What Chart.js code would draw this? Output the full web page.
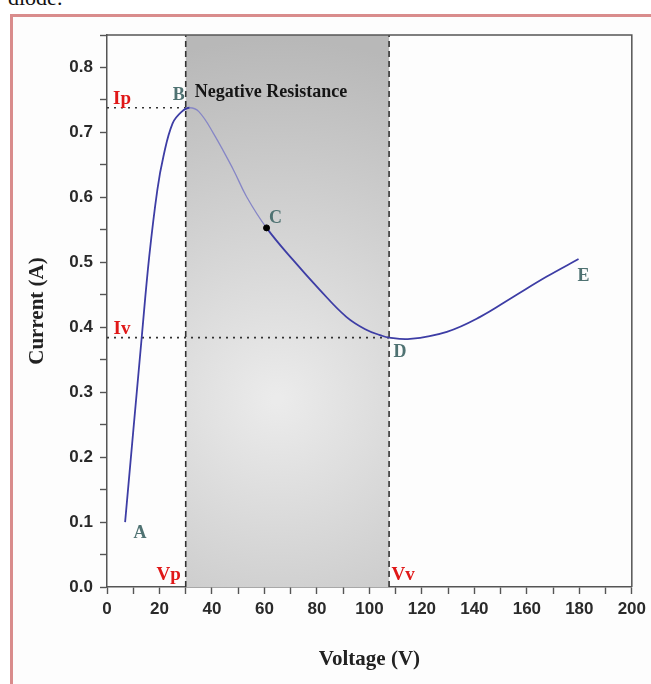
<!DOCTYPE html>
<html>
<head>
<meta charset="utf-8">
<script src="https://cdn.jsdelivr.net/npm/chart.js@4.4.1/dist/chart.umd.min.js"></script>
<style>
html, body { margin:0; padding:0; background:#fff; width:651px; height:684px; overflow:hidden; }
#cap { position:absolute; left:8px; top:-15px; font:22px "Liberation Serif", serif; color:#111; }
#frame { position:absolute; left:10px; top:14px; width:700px; height:700px;
  border-left:3px solid #d98c8c; border-top:3px solid #d98c8c; background:#fdfdfd; }
#wrap { position:absolute; left:0; top:0; width:651px; height:684px; }
</style>
</head>
<body>
<div id="cap">diode.</div>
<div id="frame"></div>
<div id="wrap"><canvas id="iv" width="651" height="684"></canvas></div>
<script>
// I-V curve
const voltage = [6.9, 13.2, 16.1, 19.2, 21.5, 25.0, 28.5, 31.5, 35.0, 40.5, 48.1, 53.2, 60.8, 70.8, 81.0, 91.2, 98.8, 104.0, 107.5, 115.5, 129.5, 142.2, 154.9, 167.6, 179.7];
const current = [0.100, 0.383, 0.509, 0.612, 0.663, 0.714, 0.732, 0.738, 0.732, 0.699, 0.643, 0.601, 0.553, 0.504, 0.458, 0.416, 0.396, 0.388, 0.384, 0.382, 0.393, 0.416, 0.447, 0.478, 0.505];

// named points on the curve
const pointNames = ["A", "B", "C", "D", "E"];
const pointV = [6.9, 31.5, 60.8, 107.5, 179.7];
const pointI = [0.100, 0.738, 0.553, 0.384, 0.505];

// peak / valley
const Vp = 30, Vv = 107.5;
const Ip = 0.738, Iv = 0.384;

const xTickLabels = [0, 20, 40, 60, 80, 100, 120, 140, 160, 180, 200];
const yTickLabels = ["0.0", "0.1", "0.2", "0.3", "0.4", "0.5", "0.6", "0.7", "0.8"];
const yMax = 0.85;

const curve = voltage.map((v, i) => ({x: v, y: current[i]}));

const shadePlugin = {
  id: "shade",
  beforeDatasetsDraw(chart) {
    const ctx = chart.ctx, a = chart.chartArea;
    const x = chart.scales.x;
    const x1 = x.getPixelForValue(Vp), x2 = x.getPixelForValue(Vv);
    const cx = (x1 + x2) / 2 - 10, cy = a.top + (a.bottom - a.top) * 0.66;
    const g = ctx.createRadialGradient(cx, cy, 5, cx, cy, 360);
    g.addColorStop(0, "#ebebeb");
    g.addColorStop(0.55, "#cfcfcf");
    g.addColorStop(1, "#b8b8b8");
    ctx.save();
    ctx.fillStyle = g;
    ctx.fillRect(x1, a.top, x2 - x1, a.bottom - a.top);
    ctx.restore();
  },
  afterDraw(chart) {
    const ctx = chart.ctx, a = chart.chartArea;
    const x = chart.scales.x, y = chart.scales.y;
    ctx.save();
    // top and right frame
    ctx.strokeStyle = "#555";
    ctx.lineWidth = 1.5;
    ctx.beginPath();
    ctx.moveTo(a.left, a.top);
    ctx.lineTo(a.right, a.top);
    ctx.lineTo(a.right, a.bottom);
    ctx.stroke();

    ctx.textAlign = "center";
    ctx.textBaseline = "middle";
    // point letters
    const offs = {A: [15, 11], B: [-11, -12], C: [9, -10], D: [11, 15], E: [5, 17]};
    ctx.font = "bold 18px 'Liberation Serif'";
    ctx.fillStyle = "#4f7272";
    pointNames.forEach((n, i) => {
      const px = x.getPixelForValue(pointV[i]), py = y.getPixelForValue(pointI[i]);
      ctx.fillText(n, px + offs[n][0], py + offs[n][1]);
    });
    // peak / valley labels
    ctx.font = "bold 19px 'Liberation Serif'";
    ctx.fillStyle = "#e01818";
    ctx.fillText("Ip", a.left + 15, y.getPixelForValue(Ip) - 9);
    ctx.fillText("Iv", a.left + 15, y.getPixelForValue(Iv) - 9);
    ctx.fillText("Vp", x.getPixelForValue(Vp) - 17, a.bottom - 12);
    ctx.fillText("Vv", x.getPixelForValue(Vv) + 14, a.bottom - 12);
    // region caption
    ctx.font = "bold 18px 'Liberation Serif'";
    ctx.fillStyle = "#151515";
    ctx.textAlign = "left";
    ctx.fillText("Negative Resistance", x.getPixelForValue(Vp) + 9, y.getPixelForValue(Ip) - 15);
    ctx.restore();
  }
};

const guide = (pts, dash) => ({
  type: "line",
  data: pts,
  borderColor: "#333",
  borderWidth: 1.6,
  borderDash: dash,
  pointRadius: 0,
  fill: false
});

new Chart("iv", {
  type: "line",
  data: {
    datasets: [
      {
        type: "scatter",
        data: [{x: pointV[2], y: pointI[2]}],
        backgroundColor: "#000",
        borderColor: "#000",
        pointRadius: 3
      },
      {
        data: curve,
        borderColor: "#3d3da5",
        borderWidth: 1.8,
        pointRadius: 0,
        tension: 0.4,
        fill: false,
        segment: {
          borderColor: c => (c.p0.parsed.x >= pointV[1] && c.p1.parsed.x <= pointV[2]) ? "#8686c6" : undefined,
          borderWidth: c => (c.p0.parsed.x >= pointV[1] && c.p1.parsed.x <= pointV[2]) ? 1.3 : undefined
        }
      },
      guide([{x: Vp, y: 0}, {x: Vp, y: yMax}], [6, 4]),
      guide([{x: Vv, y: 0}, {x: Vv, y: yMax}], [6, 4]),
      guide([{x: 0, y: Ip}, {x: Vp, y: Ip}], [2, 5]),
      guide([{x: 0, y: Iv}, {x: Vv, y: Iv}], [2, 5])
    ]
  },
  options: {
    responsive: false,
    animation: false,
    devicePixelRatio: 1,
    layout: { padding: { left: 0, top: 35, right: 19, bottom: 0 } },
    plugins: {
      legend: { display: false },
      tooltip: { enabled: false }
    },
    scales: {
      x: {
        type: "linear",
        min: 0, max: 200,
        afterFit: s => { s.height = 97; },
        border: { color: "#555", width: 1.5 },
        grid: { drawOnChartArea: false, tickLength: 7, tickColor: "#555", tickWidth: 1.4 },
        ticks: {
          stepSize: 10, autoSkip: false, maxRotation: 0, padding: 5,
          color: "#2a2a2a",
          font: { family: "Liberation Sans", weight: "bold", size: 17 },
          callback: v => xTickLabels.includes(v) ? String(v) : ""
        },
        title: {
          display: true, text: "Voltage (V)", color: "#222",
          font: { family: "Liberation Serif", weight: "bold", size: 21 },
          padding: { top: 0, bottom: 12 }
        }
      },
      y: {
        type: "linear",
        min: 0, max: yMax,
        afterFit: s => { s.width = 107; },
        border: { color: "#555", width: 1.5 },
        grid: { drawOnChartArea: false, tickLength: 7, tickColor: "#555", tickWidth: 1.4 },
        ticks: {
          stepSize: 0.05, autoSkip: false, padding: 7,
          color: "#2a2a2a",
          font: { family: "Liberation Sans", weight: "bold", size: 17 },
          callback: v => yTickLabels.find(l => Math.abs(parseFloat(l) - v) < 1e-6) || ""
        },
        title: {
          display: true, text: "Current (A)", color: "#222",
          font: { family: "Liberation Serif", weight: "bold", size: 21 },
          padding: { top: 25, bottom: 0 }
        }
      }
    }
  },
  plugins: [shadePlugin]
});
</script>
</body>
</html>
